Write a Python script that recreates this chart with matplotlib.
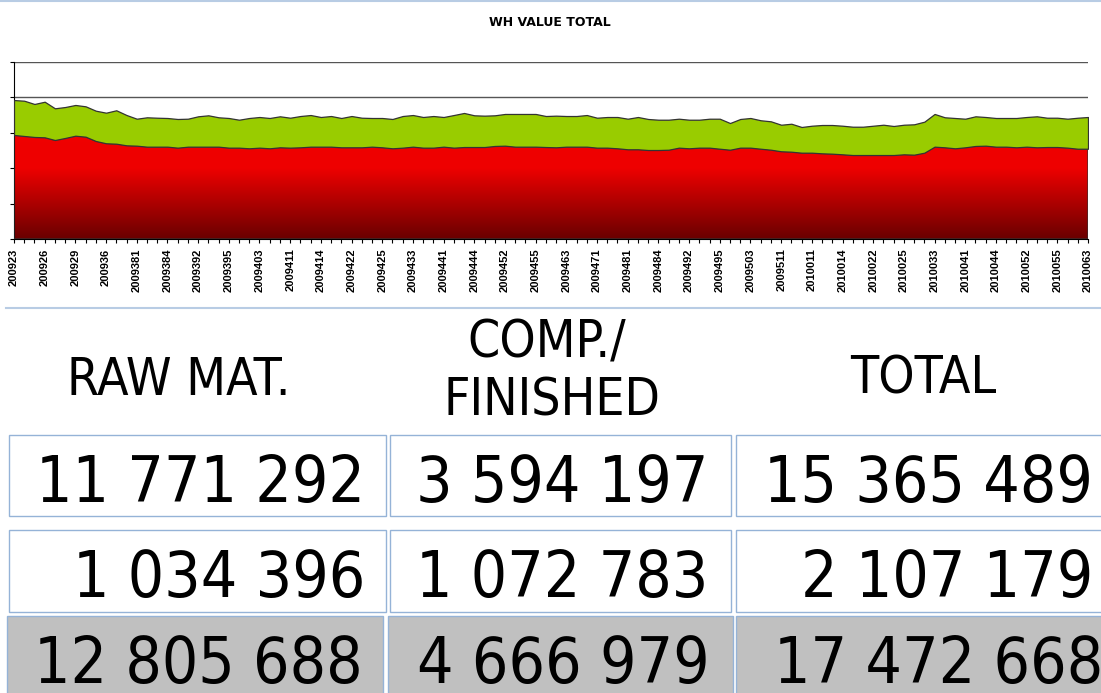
import numpy as np
import matplotlib.pyplot as plt
from matplotlib.patches import Rectangle
from matplotlib.colors import LinearSegmentedColormap
from matplotlib import font_manager

# weekly warehouse value, millions
week_labels = ['200923', '200926', '200929', '200936', '2009381', '2009384', '2009392',
               '2009395', '2009403', '2009411', '2009414', '2009422', '2009425', '2009433',
               '2009441', '2009444', '2009452', '2009455', '2009463', '2009471', '2009481',
               '2009484', '2009492', '2009495', '2009503', '2009511', '2010011', '2010014',
               '2010022', '2010025', '2010033', '2010041', '2010044', '2010052', '2010055',
               '2010063']

raw_mat = [14.69, 14.55, 14.41, 14.36, 13.98, 14.27, 14.59, 14.45, 13.84, 13.52,
           13.46, 13.23, 13.18, 13.04, 13.04, 13.04, 12.90, 13.04, 13.04, 13.04,
           13.04, 12.90, 12.90, 12.81, 12.90, 12.81, 12.95, 12.90, 12.95, 13.04,
           13.04, 13.04, 12.95, 12.95, 12.95, 13.04, 12.95, 12.81, 12.90, 13.04,
           12.90, 12.90, 13.04, 12.90, 12.99, 12.99, 12.99, 13.14, 13.18, 13.04,
           13.04, 13.04, 12.99, 12.95, 13.04, 13.04, 13.04, 12.90, 12.90, 12.81,
           12.67, 12.67, 12.57, 12.57, 12.61, 12.90, 12.81, 12.90, 12.90, 12.75,
           12.61, 12.90, 12.90, 12.75, 12.61, 12.39, 12.33, 12.19, 12.19, 12.10,
           12.05, 11.96, 11.86, 11.86, 11.86, 11.86, 11.86, 11.96, 11.91, 12.19,
           13.04, 12.95, 12.81, 12.95, 13.14, 13.18, 13.04, 13.04, 12.95, 13.04,
           12.95, 12.99, 12.99, 12.90, 12.75, 12.75]

total = [19.63, 19.53, 19.07, 19.39, 18.46, 18.64, 18.93, 18.74, 18.12, 17.84,
         18.18, 17.51, 16.99, 17.19, 17.13, 17.09, 16.95, 16.99, 17.33, 17.47,
         17.19, 17.09, 16.85, 17.09, 17.23, 17.09, 17.33, 17.13, 17.37, 17.51,
         17.23, 17.37, 17.09, 17.37, 17.13, 17.09, 17.09, 16.95, 17.37, 17.51,
         17.23, 17.37, 17.23, 17.51, 17.80, 17.47, 17.42, 17.47, 17.66, 17.66,
         17.66, 17.66, 17.37, 17.42, 17.37, 17.37, 17.51, 17.13, 17.23, 17.23,
         16.99, 17.23, 16.95, 16.85, 16.85, 16.99, 16.85, 16.85, 16.99, 16.99,
         16.38, 16.95, 17.09, 16.77, 16.62, 16.14, 16.28, 15.82, 16.00, 16.10,
         16.10, 16.00, 15.86, 15.86, 16.00, 16.14, 15.96, 16.14, 16.20, 16.57,
         17.66, 17.19, 17.09, 16.99, 17.33, 17.23, 17.09, 17.09, 17.09, 17.23,
         17.33, 17.13, 17.13, 16.99, 17.13, 17.23]

headers = ['RAW MAT.', 'COMP./', 'FINISHED', 'TOTAL']
row_stock = [11771292, 3594197, 15365489]
row_transit = [1034396, 1072783, 2107179]
row_sum = [12805688, 4666979, 17472668]

W, H = 1101, 693
fig = plt.figure(figsize=(W / 100, H / 100), dpi=100)

# font for the big numbers: condensed DejaVu if we have it, else Noto Sans
has_cond = any(f.name == 'DejaVu Sans' and f.stretch == 'condensed'
               for f in font_manager.fontManager.ttflist)
if has_cond:
    big = dict(family='DejaVu Sans', stretch='condensed')
    num_size, head_size = 46, 37
else:
    big = dict(family='Noto Sans')
    num_size, head_size = 46, 35

# ---- chart ----
ax = fig.add_axes([14 / W, 1 - 239 / H, (1088 - 14) / W, (239 - 62) / H])
x = np.arange(len(total))

grad = np.linspace(0, 1, 256).reshape(-1, 1)
cmap = LinearSegmentedColormap.from_list('red', [(0, '#6a0000'), (0.40, '#ee0000'), (1, '#f20000')])
im = ax.imshow(grad, cmap=cmap, extent=[0, len(x) - 1, 0, 25], origin='lower',
               aspect='auto', zorder=2)
red = ax.fill_between(x, 0, raw_mat, facecolor='none', edgecolor='#333333', lw=0.9, zorder=3)
im.set_clip_path(red.get_paths()[0], transform=ax.transData)
ax.fill_between(x, raw_mat, total, facecolor='#99cc00', edgecolor='#333333', lw=0.9, zorder=3)

ax.set_xlim(0, len(x) - 1)
ax.set_ylim(0, 25)
ax.set_yticks(np.arange(0, 26, 5))
ax.yaxis.grid(True, color='#555555', lw=1)
ax.set_axisbelow(True)
ax.set_xticks(x)
ax.set_xticklabels([week_labels[i // 3] if i % 3 == 0 else '' for i in x],
                   rotation=90, fontsize=8, fontweight='bold', family='Liberation Sans')
ax.tick_params(axis='x', length=3, width=0.8, pad=4)
ax.tick_params(axis='y', length=3, width=0.8, labelleft=False)
for s in ['top', 'right']:
    ax.spines[s].set_visible(False)

# ---- frame, title and numbers ----
bg = fig.add_axes([0, 0, 1, 1], zorder=-1)
bg.set_xlim(0, W)
bg.set_ylim(H, 0)
bg.axis('off')

bg.text(550, 23, 'WH VALUE TOTAL', ha='center', va='center', fontsize=9,
        fontweight='bold', family=['Liberation Sans Narrow', 'DejaVu Sans'])
line_col = '#b8cce4'
bg.plot([0, W], [0.7, 0.7], color=line_col, lw=1.5)
bg.plot([6, W], [308, 308], color=line_col, lw=1.5)

bg.text(179, 395, headers[0], ha='center', va='baseline', fontsize=head_size, **big)
bg.text(547, 357, headers[1], ha='center', va='baseline', fontsize=head_size, **big)
bg.text(552, 415, headers[2], ha='center', va='baseline', fontsize=head_size, **big)
bg.text(923, 393, headers[3], ha='center', va='baseline', fontsize=head_size, **big)

box_col = '#95b3d7'
rows = [(row_stock, 435, 516, 502, 'white', [(9, 386), (390, 731), (736, 1106)], [365, 708, 1093]),
        (row_transit, 530, 612, 597, 'white', [(9, 386), (390, 731), (736, 1106)], [365, 708, 1093]),
        (row_sum, 616, 700, 683, '#c0c0c0', [(7, 383), (388, 733), (736, 1106)], [363, 710, 1103])]
for vals, y0, y1, base, fc, cols, rights in rows:
    for v, (x0, x1), xr in zip(vals, cols, rights):
        bg.add_patch(Rectangle((x0, y0), x1 - x0, y1 - y0, facecolor=fc, edgecolor=box_col, lw=1))
        bg.text(xr, base, f'{v:,}'.replace(',', ' '), ha='right', va='baseline',
                fontsize=num_size, **big)

fig.savefig('out.png', dpi=100)
